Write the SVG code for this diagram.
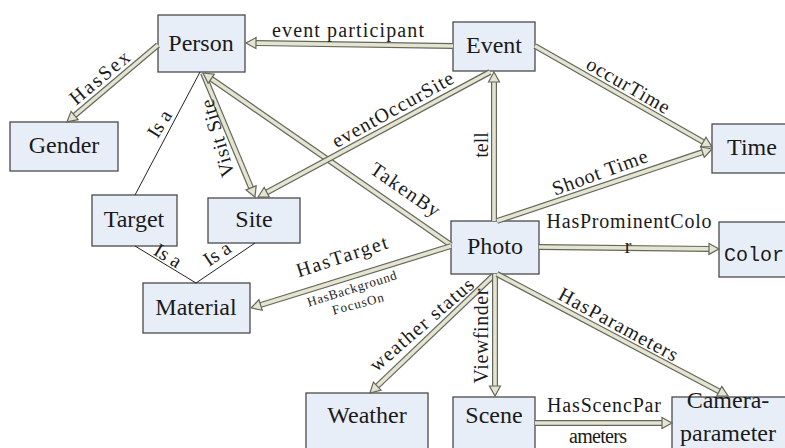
<svg xmlns="http://www.w3.org/2000/svg" width="785" height="448" viewBox="0 0 785 448">
<style>
.box{fill:#e8eef8;stroke:#4a4a4a;stroke-width:1.3}
.nl{font-family:"Liberation Serif",serif;font-size:24px;fill:#1a1a1a;text-anchor:middle}
.el{font-family:"Liberation Serif",serif;font-size:20px;fill:#1a1a1a;text-anchor:middle}
.sl{font-family:"Liberation Serif",serif;font-size:13px;fill:#1a1a1a;text-anchor:middle}
.so{stroke:#66665c;stroke-width:6;fill:none}
.si{stroke:#e3e5d0;stroke-width:3.6;fill:none;marker-end:url(#ah)}
.thin{stroke:#222;stroke-width:1;fill:none}
</style>
<defs>
<marker id="ah" markerUnits="userSpaceOnUse" viewBox="-1 -7 13 14" refX="0" refY="0" markerWidth="13" markerHeight="14" orient="auto">
<path d="M0,-5.5 L10,0 L0,5.5 Z" fill="#e3e5d0" stroke="#66665c" stroke-width="1.2" stroke-linejoin="miter"/>
</marker>
</defs>
<rect width="785" height="448" fill="#ffffff"/>

<g id="nodes">
<g id="person"><rect class="box" x="158" y="15" width="87" height="57"/><text class="nl" x="201" y="51">Person</text></g>
<g id="gender"><rect class="box" x="10" y="122" width="108" height="49"/><text class="nl" x="64" y="153">Gender</text></g>
<g id="target"><rect class="box" x="92" y="195" width="85" height="51"/><text class="nl" x="134" y="227">Target</text></g>
<g id="site"><rect class="box" x="208" y="198" width="92" height="45"/><text class="nl" x="254" y="227">Site</text></g>
<g id="material"><rect class="box" x="143" y="283" width="107" height="50"/><text class="nl" x="196" y="315">Material</text></g>
<g id="event"><rect class="box" x="453" y="22" width="82" height="49"/><text class="nl" x="494" y="53">Event</text></g>
<g id="time"><rect class="box" x="712" y="124" width="80" height="49"/><text class="nl" x="752" y="155">Time</text></g>
<g id="photo"><rect class="box" x="451" y="221" width="88" height="53"/><text class="nl" x="495" y="254">Photo</text></g>
<g id="color"><rect class="box" x="719" y="222" width="80" height="55"/><text x="724" y="261" style="font-family:'Liberation Mono',monospace;font-size:20px;fill:#1a1a1a">Color</text></g>
<g id="weather"><rect class="box" x="306" y="393" width="122" height="62"/><text class="nl" x="367" y="423">Weather</text></g>
<g id="scene"><rect class="box" x="453" y="397" width="82" height="58"/><text class="nl" x="494" y="423">Scene</text></g>
<g id="camera"><rect class="box" x="672" y="397" width="120" height="58"/><text class="nl" x="728" y="408">Camera-</text><text class="nl" x="728" y="441">parameter</text></g>
</g>

<g id="connectors">
<line class="thin" x1="200" y1="72" x2="135" y2="195"/>
<line class="thin" x1="135" y1="246" x2="196" y2="283"/>
<line class="thin" x1="255" y1="243" x2="196" y2="283"/>

<line class="so" x1="453" y1="46" x2="256" y2="43.1"/><line class="si" x1="453" y1="46" x2="256" y2="43.1"/>
<line class="so" x1="158" y1="45" x2="74.6" y2="115.5"/><line class="si" x1="158" y1="45" x2="74.6" y2="115.5"/>
<line class="so" x1="203" y1="73" x2="251.1" y2="187.8"/><line class="si" x1="203" y1="73" x2="251.1" y2="187.8"/>
<line class="so" x1="451" y1="245" x2="211.2" y2="78.7"/><line class="si" x1="451" y1="245" x2="211.2" y2="78.7"/>
<line class="so" x1="490" y1="72" x2="266.8" y2="192.3"/><line class="si" x1="490" y1="72" x2="266.8" y2="192.3"/>
<line class="so" x1="494" y1="221" x2="494" y2="82"/><line class="si" x1="494" y1="221" x2="494" y2="82"/>
<line class="so" x1="535" y1="46" x2="703.3" y2="142"/><line class="si" x1="535" y1="46" x2="703.3" y2="142"/>
<line class="so" x1="497" y1="221" x2="702.5" y2="152.2"/><line class="si" x1="497" y1="221" x2="702.5" y2="152.2"/>
<line class="so" x1="539" y1="247" x2="709" y2="248.9"/><line class="si" x1="539" y1="247" x2="709" y2="248.9"/>
<line class="so" x1="451" y1="246" x2="260.6" y2="305"/><line class="si" x1="451" y1="246" x2="260.6" y2="305"/>
<line class="so" x1="494" y1="275" x2="377.2" y2="386.1"/><line class="si" x1="494" y1="275" x2="377.2" y2="386.1"/>
<line class="so" x1="495" y1="274" x2="495" y2="386"/><line class="si" x1="495" y1="274" x2="495" y2="386"/>
<line class="so" x1="497" y1="274" x2="719.2" y2="391.3"/><line class="si" x1="497" y1="274" x2="719.2" y2="391.3"/>
<line class="so" x1="535" y1="423" x2="662" y2="423"/><line class="si" x1="535" y1="423" x2="662" y2="423"/>

<text class="el" x="348" y="37" textLength="152" lengthAdjust="spacing">event  participant</text>
<text class="el" transform="translate(100,78) rotate(-40)" y="6" textLength="72">HasSex</text>
<text class="el" transform="translate(160,124) rotate(-58)" y="6">Is a</text>
<text class="el" transform="translate(218,138) rotate(-106)" y="6" textLength="80">Visit Site</text>
<text class="el" transform="translate(405,190) rotate(34.6)" y="6" textLength="80">TakenBy</text>
<text class="el" transform="translate(393,110) rotate(-29)" y="6" textLength="136">eventOccurSite</text>
<text class="el" transform="translate(482,145) rotate(-90)" y="6">tell</text>
<text class="el" transform="translate(628,86) rotate(30)" y="6" textLength="93">occurTime</text>
<text class="el" transform="translate(600,173) rotate(-20)" y="6" textLength="100">Shoot Time</text>
<text class="el" x="629" y="228" textLength="165">HasProminentColo</text>
<text class="el" x="628" y="253">r</text>
<text class="el" transform="translate(342,257) rotate(-18)" y="6" textLength="95">HasTarget</text>
<text class="sl" transform="translate(352,289) rotate(-17.5)" y="4" textLength="93">HasBackground</text>
<text class="sl" transform="translate(358,304) rotate(-15)" y="4" textLength="53">FocusOn</text>
<text class="el" transform="translate(422,325) rotate(-41)" y="6" textLength="131">weather  status</text>
<text class="el" transform="translate(482,336) rotate(-90)" y="6" textLength="95">Viewfinder</text>
<text class="el" transform="translate(618,325) rotate(28.5)" y="6" textLength="133">HasParameters</text>
<text class="el" x="604" y="412" textLength="114">HasScencPar</text>
<text class="el" x="598" y="443" textLength="58">ameters</text>
<text class="el" transform="translate(167,257) rotate(31)" y="5">Is a</text>
<text class="el" transform="translate(218,255) rotate(-34)" y="5">Is a</text>
</g>
</svg>
